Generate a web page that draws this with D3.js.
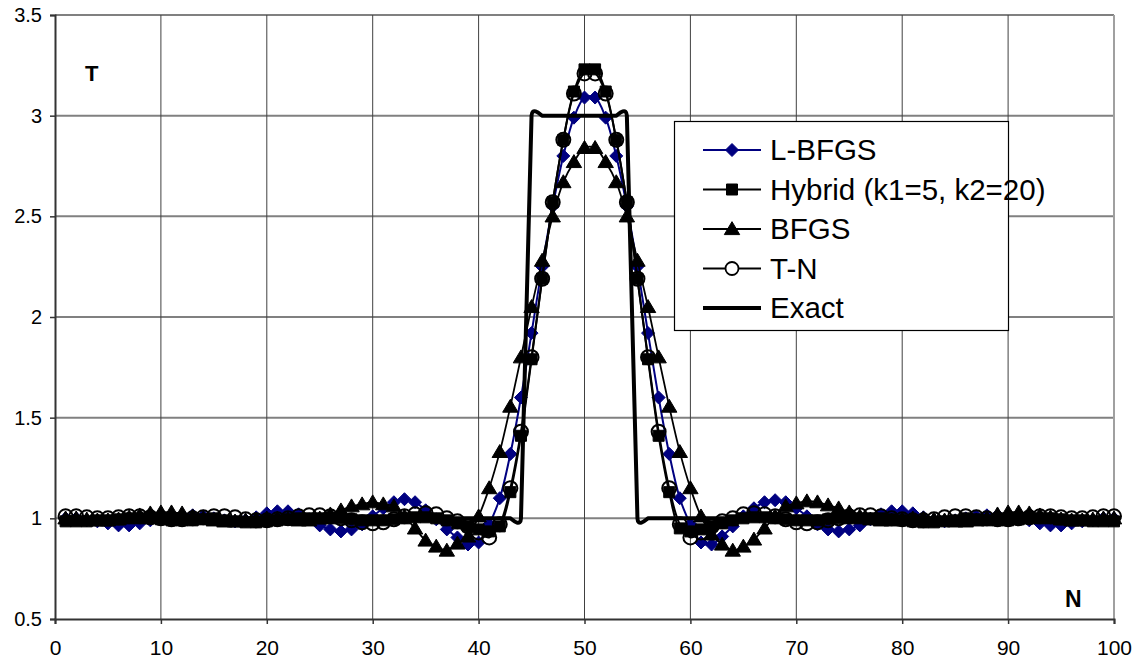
<!DOCTYPE html>
<html>
<head>
<meta charset="utf-8">
<script src="https://cdn.jsdelivr.net/npm/d3@7"></script>
<style>
  body { margin: 0; background: #fff; }
  text { font-family: "Liberation Sans", Arial, sans-serif; }
</style>
</head>
<body>
<svg id="chart" width="1145" height="668"></svg>
<script>
// Sample index along the profile
const nValues = d3.range(1, 101);

const lbfgs = [
  1.00, 1.00, 0.99, 0.985, 0.975, 0.965, 0.965, 0.975, 0.99, 1.00,
  1.01, 1.015, 1.015, 1.01, 1.00, 0.99, 0.985, 0.99, 1.005, 1.025,
  1.035, 1.035, 1.02, 0.995, 0.965, 0.945, 0.935, 0.945, 0.97, 1.01,
  1.05, 1.08, 1.095, 1.08, 1.04, 0.995, 0.945, 0.905, 0.87, 0.88,
  0.97, 1.10, 1.32, 1.60, 1.92, 2.25, 2.55, 2.80, 2.99, 3.09,
  3.09, 2.99, 2.80, 2.55, 2.25, 1.92, 1.60, 1.32, 1.10, 0.97,
  0.88, 0.87, 0.91, 0.96, 1.01, 1.05, 1.08, 1.09, 1.08, 1.05,
  1.01, 0.97, 0.945, 0.935, 0.945, 0.965, 0.995, 1.02, 1.035, 1.035,
  1.025, 1.005, 0.99, 0.985, 0.99, 1.00, 1.01, 1.015, 1.015, 1.01,
  1.00, 0.99, 0.975, 0.965, 0.965, 0.975, 0.985, 0.99, 1.00, 1.00
];

const hybrid = [
  0.985, 0.985, 0.985, 0.99, 0.99, 0.995, 1.00, 1.00, 1.00, 0.995,
  0.99, 0.99, 0.99, 0.995, 1.00, 0.99, 0.985, 0.98, 0.98, 0.985,
  0.99, 0.995, 1.00, 1.00, 1.00, 1.00, 1.00, 0.995, 0.99, 0.99,
  0.99, 0.995, 1.00, 1.005, 1.005, 1.00, 0.99, 0.975, 0.96, 0.945,
  0.935, 0.96, 1.13, 1.41, 1.79, 2.19, 2.57, 2.88, 3.12, 3.23,
  3.23, 3.12, 2.88, 2.57, 2.19, 1.79, 1.41, 1.13, 0.95, 0.935,
  0.945, 0.96, 0.975, 0.99, 1.00, 1.005, 1.005, 1.00, 0.995, 0.99,
  0.99, 0.99, 0.995, 1.00, 1.00, 1.00, 1.00, 1.00, 0.995, 0.99,
  0.985, 0.98, 0.98, 0.985, 0.99, 1.00, 0.995, 0.99, 0.99, 0.99,
  0.995, 1.00, 1.00, 1.00, 0.995, 0.99, 0.99, 0.985, 0.985, 0.985
];

const bfgs = [
  1.00, 1.00, 0.995, 0.99, 0.99, 0.995, 1.005, 1.015, 1.025, 1.03,
  1.03, 1.025, 1.01, 1.00, 0.99, 0.985, 0.985, 0.99, 0.995, 1.00,
  1.00, 0.995, 0.99, 0.99, 1.00, 1.02, 1.04, 1.06, 1.07, 1.08,
  1.07, 1.06, 1.01, 0.95, 0.89, 0.86, 0.84, 0.875, 0.91, 1.01,
  1.15, 1.33, 1.555, 1.80, 2.05, 2.28, 2.50, 2.67, 2.77, 2.84,
  2.84, 2.77, 2.67, 2.50, 2.28, 2.05, 1.80, 1.555, 1.33, 1.15,
  1.01, 0.92, 0.87, 0.84, 0.86, 0.895, 0.95, 1.01, 1.06, 1.075,
  1.085, 1.08, 1.065, 1.05, 1.03, 1.01, 0.995, 0.99, 0.99, 0.995,
  1.00, 1.00, 0.995, 0.99, 0.985, 0.985, 0.99, 1.00, 1.02, 1.03,
  1.03, 1.025, 1.015, 1.005, 0.995, 0.99, 0.99, 0.995, 1.00, 1.00
];

const truncNewton = [
  1.01, 1.01, 1.005, 1.00, 1.00, 1.005, 1.01, 1.01, 1.005, 1.00,
  0.995, 0.995, 1.00, 1.005, 1.01, 1.01, 1.005, 0.995, 0.99, 0.99,
  0.995, 1.00, 1.01, 1.015, 1.015, 1.01, 1.00, 0.99, 0.98, 0.975,
  0.98, 0.995, 1.01, 1.02, 1.025, 1.02, 1.00, 0.985, 0.96, 0.93,
  0.905, 0.97, 1.15, 1.43, 1.80, 2.19, 2.57, 2.88, 3.11, 3.21,
  3.21, 3.11, 2.88, 2.57, 2.19, 1.80, 1.43, 1.15, 0.97, 0.905,
  0.93, 0.96, 0.985, 1.00, 1.02, 1.025, 1.02, 1.01, 0.995, 0.98,
  0.975, 0.98, 0.99, 1.00, 1.01, 1.015, 1.015, 1.01, 1.00, 0.995,
  0.99, 0.99, 0.995, 1.005, 1.01, 1.01, 1.005, 1.00, 0.995, 0.995,
  1.00, 1.005, 1.01, 1.01, 1.005, 1.00, 1.00, 1.005, 1.01, 1.01
];

const exact = [
  1, 1, 1, 1, 1, 1, 1, 1, 1, 1,
  1, 1, 1, 1, 1, 1, 1, 1, 1, 1,
  1, 1, 1, 1, 1, 1, 1, 1, 1, 1,
  1, 1, 1, 1, 1, 1, 1, 1, 1, 1,
  1, 1, 1, 1, 3, 3, 3, 3, 3, 3,
  3, 3, 3, 3, 1, 1, 1, 1, 1, 1,
  1, 1, 1, 1, 1, 1, 1, 1, 1, 1,
  1, 1, 1, 1, 1, 1, 1, 1, 1, 1,
  1, 1, 1, 1, 1, 1, 1, 1, 1, 1,
  1, 1, 1, 1, 1, 1, 1, 1, 1, 1
];

const xTicks = [0, 10, 20, 30, 40, 50, 60, 70, 80, 90, 100];
const yTicks = [0.5, 1, 1.5, 2, 2.5, 3, 3.5];

const seriesNames = ["L-BFGS", "Hybrid (k1=5, k2=20)", "BFGS", "T-N", "Exact"];

// ---- layout ----
const svg = d3.select("#chart");
const plot = { left: 55, top: 15, right: 1114, bottom: 619 };

const x = d3.scaleLinear().domain([0, 100]).range([plot.left, plot.right]);
const y = d3.scaleLinear().domain([0.5, 3.5]).range([plot.bottom, plot.top]);

// gridlines
const grid = svg.append("g");
grid.selectAll("line.h").data(yTicks.filter(d => d > 0.5)).join("line")
  .attr("x1", plot.left).attr("x2", plot.right)
  .attr("y1", d => y(d)).attr("y2", d => y(d))
  .attr("stroke", "#808080").attr("stroke-width", 2);
grid.selectAll("line.v").data(xTicks.filter(d => d > 0 && d < 100)).join("line")
  .attr("x1", d => x(d)).attr("x2", d => x(d))
  .attr("y1", plot.top).attr("y2", plot.bottom)
  .attr("stroke", "#404040").attr("stroke-width", 1);
// right border
svg.append("line")
  .attr("x1", x(100)).attr("x2", x(100)).attr("y1", plot.top).attr("y2", plot.bottom)
  .attr("stroke", "#a0a0a0").attr("stroke-width", 2);

// axes
const yAxis = d3.axisLeft(y).tickValues(yTicks).tickSize(5).tickPadding(8)
  .tickFormat(d => String(d));
const gy = svg.append("g").attr("transform", `translate(${plot.left},0)`).call(yAxis);
gy.select(".domain").attr("stroke", "#333").attr("stroke-width", 2);
gy.selectAll(".tick line").attr("stroke", "#333").attr("stroke-width", 1.5);
gy.selectAll(".tick text").attr("font-size", 20).attr("fill", "#000")
  .style("font-family", '"Liberation Sans", Arial, sans-serif');

const xAxis = d3.axisBottom(x).tickValues(xTicks).tickSize(5).tickPadding(16)
  .tickFormat(d => String(d));
const gx = svg.append("g").attr("transform", `translate(0,${plot.bottom})`).call(xAxis);
gx.select(".domain").attr("stroke", "#333").attr("stroke-width", 2);
gx.selectAll(".tick line").attr("stroke", "#333").attr("stroke-width", 1.5);
gx.selectAll(".tick text").attr("font-size", 21).attr("fill", "#000")
  .style("font-family", '"Liberation Sans", Arial, sans-serif');

// axis titles inside plot
svg.append("text").attr("x", 85).attr("y", 81).attr("font-size", 22)
  .attr("font-weight", "bold").text("T");
svg.append("text").attr("x", 1065).attr("y", 607).attr("font-size", 23)
  .attr("font-weight", "bold").text("N");

// ---- marker shapes ----
const markers = {
  diamond: (s) => `M0,${-s}L${s},0L0,${s}L${-s},0Z`,
  square: (s) => `M${-s},${-s}H${s}V${s}H${-s}Z`,
  triangle: (s) => `M0,${-s * 1.05}L${s * 1.1},${s * 0.8}L${-s * 1.1},${s * 0.8}Z`,
  circle: (s) => `M${s},0A${s},${s} 0 1,1 ${-s},0A${s},${s} 0 1,1 ${s},0Z`
};

const series = [
  { name: seriesNames[0], values: lbfgs, color: "#000080", width: 2, marker: "diamond", size: 6.5, fill: "#000080" },
  { name: seriesNames[1], values: hybrid, color: "#000", width: 2, marker: "square", size: 5.5, fill: "#000" },
  { name: seriesNames[2], values: bfgs, color: "#000", width: 1.8, marker: "triangle", size: 7, fill: "#000" },
  { name: seriesNames[3], values: truncNewton, color: "#000", width: 2, marker: "circle", size: 7, fill: "none" },
  { name: seriesNames[4], values: exact, color: "#000", width: 4, marker: null }
];

// smoothed polylines; the step profile uses a tight cardinal spline
const smoothLine = d3.line()
  .x((d, i) => x(nValues[i]))
  .y(d => y(d))
  .curve(d3.curveCatmullRom.alpha(0.5));
const stepLine = d3.line()
  .x((d, i) => x(nValues[i]))
  .y(d => y(d))
  .curve(d3.curveCardinal.tension(0.85));

const layer = svg.append("g");
series.forEach(s => {
  const g = layer.append("g");
  g.append("path").datum(s.values).attr("d", s.marker ? smoothLine : stepLine)
    .attr("fill", "none").attr("stroke", s.color).attr("stroke-width", s.width)
    .attr("stroke-linejoin", "round");
  if (s.marker) {
    g.selectAll("path.m").data(s.values).join("path")
      .attr("class", "m")
      .attr("transform", (d, i) => `translate(${x(nValues[i])},${y(d)})`)
      .attr("d", markers[s.marker](s.size))
      .attr("fill", s.fill)
      .attr("stroke", s.color)
      .attr("stroke-width", s.marker === "circle" ? 2 : 1);
  }
});

// ---- legend ----
const legend = svg.append("g");
legend.append("rect").attr("x", 674.5).attr("y", 121.5).attr("width", 334).attr("height", 209)
  .attr("fill", "#fff").attr("stroke", "#000").attr("stroke-width", 1.2);
const rowY = d3.scalePoint().domain(seriesNames).range([150, 308]);
series.forEach(s => {
  const cy = rowY(s.name);
  legend.append("line").attr("x1", 703).attr("x2", 761).attr("y1", cy).attr("y2", cy)
    .attr("stroke", s.color).attr("stroke-width", s.width);
  if (s.marker) {
    legend.append("path").attr("transform", `translate(732,${cy})`)
      .attr("d", markers[s.marker](s.marker === "circle" ? 6.5 : s.size))
      .attr("fill", s.marker === "circle" ? "#fff" : s.fill)
      .attr("stroke", s.color).attr("stroke-width", s.marker === "circle" ? 1.8 : 1);
  }
  legend.append("text").attr("x", 770).attr("y", cy + 10).attr("font-size", 29.5)
    .attr("fill", "#000").text(s.name);
});
</script>
</body>
</html>
